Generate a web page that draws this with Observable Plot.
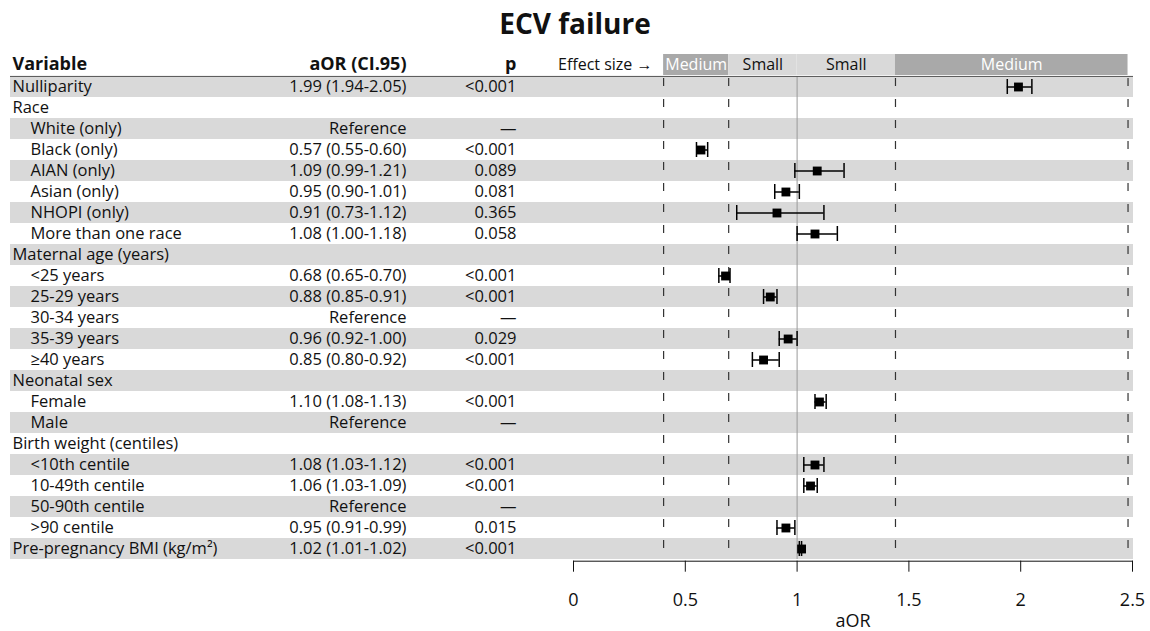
<!DOCTYPE html>
<html>
<head>
<meta charset="utf-8">
<script src="https://cdn.jsdelivr.net/npm/d3@7"></script>
<script src="https://cdn.jsdelivr.net/npm/@observablehq/plot@0.6"></script>
<style>
  html, body { margin: 0; padding: 0; background: #fff; }
  body { width: 1150px; height: 631px; overflow: hidden; font-family: "Open Sans", sans-serif; }
  #title { height: 40px; line-height: 46px; text-align: center; font-weight: 700; font-size: 28px; color: #111; }
  svg { display: block; }
</style>
</head>
<body>
<div id="title">ECV failure</div>
<div id="chart"></div>
<script>
// ---- Data ----
const variables = [
  "Nulliparity", "Race", "White (only)", "Black (only)", "AIAN (only)", "Asian (only)",
  "NHOPI (only)", "More than one race", "Maternal age (years)", "<25 years", "25-29 years",
  "30-34 years", "35-39 years", "≥40 years", "Neonatal sex", "Female", "Male",
  "Birth weight (centiles)", "<10th centile", "10-49th centile", "50-90th centile",
  ">90 centile", "Pre-pregnancy BMI (kg/m²)"
];
const indentLevel = [0, 0, 1, 1, 1, 1, 1, 1, 0, 1, 1, 1, 1, 1, 0, 1, 1, 0, 1, 1, 1, 1, 0];
const aorValues = [1.99, null, null, 0.57, 1.09, 0.95, 0.91, 1.08, null, 0.68, 0.88, null, 0.96, 0.85, null, 1.10, null, null, 1.08, 1.06, null, 0.95, 1.02];
const ciLow     = [1.94, null, null, 0.55, 0.99, 0.90, 0.73, 1.00, null, 0.65, 0.85, null, 0.92, 0.80, null, 1.08, null, null, 1.03, 1.03, null, 0.91, 1.01];
const ciHigh    = [2.05, null, null, 0.60, 1.21, 1.01, 1.12, 1.18, null, 0.70, 0.91, null, 1.00, 0.92, null, 1.13, null, null, 1.12, 1.09, null, 0.99, 1.02];
const pValues   = ["<0.001", "", "—", "<0.001", "0.089", "0.081", "0.365", "0.058", "", "<0.001", "<0.001", "—", "0.029", "<0.001", "", "<0.001", "—", "", "<0.001", "<0.001", "—", "0.015", "<0.001"];
const referenceLabel = "Reference";

const headerVariable = "Variable";
const headerAOR = "aOR (CI.95)";
const headerP = "p";
const effectSizeLabel = "Effect size →";
const effectLo = [0.403, 0.694, 1.0, 1.44];
const effectHi = [0.694, 1.0, 1.44, 2.48];
const effectLabel = ["Medium", "Small", "Small", "Medium"];
const thresholds = [0.403, 0.694, 1.44, 2.48];
const xTicks = [0, 0.5, 1, 1.5, 2, 2.5];
const xLabel = "aOR";

// ---- Derived table ----
const f2 = d3.format(".2f");
const rows = variables.map((name, i) => ({
  name, i,
  level: indentLevel[i],
  aor: aorValues[i], lo: ciLow[i], hi: ciHigh[i],
  p: pValues[i],
  aorText: aorValues[i] != null ? `${f2(aorValues[i])} (${f2(ciLow[i])}-${f2(ciHigh[i])})` : (pValues[i] === "—" ? referenceLabel : "")
}));
const est = rows.filter(d => d.aor != null);
const stripes = rows.filter(d => d.i % 2 === 0);
const effects = effectLo.map((lo, i) => ({lo, hi: effectHi[i], label: effectLabel[i]}));
const dashRows = thresholds.flatMap(t => rows.map(r => ({t, name: r.name})));
const HEADER = "__header";

// ---- Layout ----
const W = 1150, H = 591, mt = 13.3, mb = 70.3, ml = 573, mr = 18;
const bw = (H - mt - mb) / (rows.length + 1);
const leftX = 12 - ml;
const font = "Open Sans";
const body = 16.5;

const chart = Plot.plot({
  width: W, height: H,
  marginTop: mt, marginBottom: mb, marginLeft: ml, marginRight: mr,
  style: {fontFamily: font, fontSize: body + "px", color: "#111", background: "#fff", overflow: "visible"},
  x: {domain: [0, 2.5]},
  y: {type: "band", domain: [HEADER, ...variables], padding: 0, axis: null},
  marks: [
    // zebra stripes across the whole table
    Plot.barX(stripes, {x1: 0, x2: 2.5, y: "name", fill: "#d9d9d9", insetLeft: leftX - 2, insetRight: -1}),
    // reference line at 1
    Plot.ruleX(rows, {x: () => 1, y1: "name", y2: "name", stroke: "#999", strokeWidth: 1}),
    // effect-size thresholds
    Plot.ruleX(dashRows, {x: "t", y1: "name", y2: "name", stroke: "#333", strokeWidth: 1.2, strokeDasharray: `8,${(bw - 8).toFixed(2)}`, strokeDashoffset: -2}),
    // header effect boxes
    Plot.rect(effects, {x1: "lo", x2: "hi", y: () => HEADER, fill: d => d.label === "Medium" ? "#a9a9a9" : "#d9d9d9", insetTop: -1, insetBottom: 1}),
    Plot.text(effects, {x: d => (d.lo + d.hi) / 2, y: () => HEADER, text: "label", fill: d => d.label === "Medium" ? "#fff" : "#111", fontSize: 16, dy: -1}),
    Plot.text([effectSizeLabel], {frameAnchor: "left", y: () => HEADER, text: d => d, textAnchor: "end", dx: 652 - ml, dy: -1, fontSize: 16}),
    // header labels
    Plot.text([headerVariable], {frameAnchor: "left", y: () => HEADER, text: d => d, textAnchor: "start", dx: leftX, dy: -2, fontWeight: 700, fontSize: 18}),
    Plot.text([headerAOR], {frameAnchor: "left", y: () => HEADER, text: d => d, textAnchor: "end", dx: 406 - ml, dy: -2, fontWeight: 700, fontSize: 18}),
    Plot.text([headerP], {frameAnchor: "left", y: () => HEADER, text: d => d, textAnchor: "end", dx: 516 - ml, dy: -2, fontWeight: 700, fontSize: 18}),
    // header separator
    Plot.ruleY([variables[0]], {y: d => d, dy: -bw / 2, stroke: "#555", strokeWidth: 1, insetLeft: leftX - 2, insetRight: -1}),
    // table text
    Plot.text(rows.filter(d => d.level === 0), {frameAnchor: "left", y: "name", text: "name", textAnchor: "start", dx: leftX}),
    Plot.text(rows.filter(d => d.level === 1), {frameAnchor: "left", y: "name", text: "name", textAnchor: "start", dx: leftX + 18}),
    Plot.text(rows, {frameAnchor: "left", y: "name", text: "aorText", textAnchor: "end", dx: 406 - ml}),
    Plot.text(rows, {frameAnchor: "left", y: "name", text: "p", textAnchor: "end", dx: 516 - ml}),
    // estimates
    Plot.ruleY(est, {x1: "lo", x2: "hi", y: "name", stroke: "#000", strokeWidth: 1.5}),
    Plot.tickX(est, {x: "lo", y: "name", stroke: "#000", strokeWidth: 1.5, insetTop: 3, insetBottom: 3}),
    Plot.tickX(est, {x: "hi", y: "name", stroke: "#000", strokeWidth: 1.5, insetTop: 3, insetBottom: 3}),
    Plot.dot(est, {x: "aor", y: "name", symbol: "square", r: 5, fill: "#000"}),
    // axis
    Plot.frame({anchor: "bottom", stroke: "#111"}),
    Plot.axisX({ticks: xTicks, tickFormat: d => String(d), tickSize: 11, tickPadding: 21, fontSize: 18, label: null, stroke: "#111"}),
    Plot.text([xLabel], {frameAnchor: "bottom", text: d => d, dy: 66, fontSize: 18})
  ]
});
document.getElementById("chart").appendChild(chart);
</script>
</body>
</html>
